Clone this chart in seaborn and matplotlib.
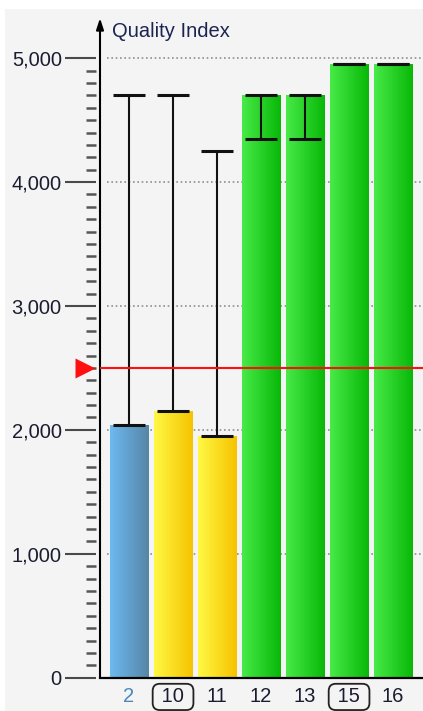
import numpy as np
import pandas as pd
import matplotlib
matplotlib.use("Agg")
import matplotlib.pyplot as plt
import seaborn as sns
from matplotlib.ticker import FixedLocator, FuncFormatter
from matplotlib.colors import to_rgb
from matplotlib.patches import Rectangle
from matplotlib.transforms import blended_transform_factory

# ─── DATA ───────────────────────────────────────────────
categories = ["2", "10", "11", "12", "13", "15", "16"]
values     = [2040, 2150, 1950, 4700, 4700, 4950, 4950]
range_low  = [2040, 2150, 1950, 4350, 4350, 4950, 4950]
range_high = [4700, 4700, 4250, 4700, 4700, 4950, 4950]
kinds      = ["blue", "yellow", "yellow", "green", "green", "green", "green"]
boxed      = ["10", "15"]
threshold  = 2500
y_ticks    = [0, 1000, 2000, 3000, 4000, 5000]
minor_step = 100
y_title    = "Quality Index"

# ─── STYLE ──────────────────────────────────────────────
GRADIENTS = {
    "blue":   ("#6cb9f2", "#5686a6"),
    "yellow": ("#fff844", "#f5c300"),
    "green":  ("#48ea48", "#08b808"),
}
BG = "#f4f4f4"
FONT = 14.5

sns.set_theme(style="white")
plt.rcParams["font.family"] = ["Liberation Sans", "DejaVu Sans"]

fig = plt.figure(figsize=(4.23, 7.11), dpi=100, facecolor="white")
fig.patches.append(Rectangle((5 / 423, 0), 1, (711 - 9) / 711,
                             transform=fig.transFigure, fc=BG, ec="none", zorder=-5))
ax = fig.add_axes([100 / 423, 33.3 / 711, 323 / 423, 662.9 / 711])
ax.set_facecolor("none")

# ─── BARS ───────────────────────────────────────────────
df = pd.DataFrame({"cat": categories, "val": values, "kind": kinds})
palette = {c: GRADIENTS[k][1] for c, k in zip(categories, kinds)}
sns.barplot(data=df, x="cat", y="val", hue="cat", palette=palette,
            legend=False, errorbar=None, width=0.886, ax=ax, zorder=2)

# gradient fill clipped to every bar
for p, k in zip(ax.patches, kinds):
    p.set_edgecolor("none")
    x0, y0 = p.get_x(), p.get_y()
    w, h = p.get_width(), p.get_height()
    left = np.array(to_rgb(GRADIENTS[k][0]))
    right = np.array(to_rgb(GRADIENTS[k][1]))
    t = np.linspace(0, 1, 64)[None, :, None]
    img = left + (right - left) * t
    im = ax.imshow(img, extent=[x0, x0 + w, y0, y0 + h], aspect="auto",
                   interpolation="bilinear", zorder=2.1)
    im.set_clip_path(p)

# min / max range bars
lower = [v - lo for v, lo in zip(values, range_low)]
upper = [hi - v for v, hi in zip(values, range_high)]
ax.errorbar(range(len(categories)), values, yerr=[lower, upper], fmt="none",
            ecolor="#111111", elinewidth=1.5, capsize=11.5, capthick=2.2, zorder=4)

ax.set_xlim(-0.66, 6.68)
ax.set_ylim(0, 5350)

# dotted grid, starting a little right of the axis
for yv in y_ticks[1:]:
    ax.axhline(yv, xmin=0.022, xmax=1, color="#8f8f8f", lw=1.2,
               ls=(0, (1, 1.6)), zorder=1)

# threshold line + marker
ax.axhline(threshold, color="#ff1010", lw=1.5, zorder=5)
trans = blended_transform_factory(ax.transAxes, ax.transData)
ax.plot([-0.046], [threshold], marker=">", ms=15, color="#ff1010",
        mec="none", transform=trans, clip_on=False, zorder=6)

# ─── AXES ───────────────────────────────────────────────
for s in ["top", "right"]:
    ax.spines[s].set_visible(False)
ax.spines["left"].set_position(("outward", 3))
ax.spines["left"].set_visible(False)
ax.spines["bottom"].set_color("black")
ax.spines["bottom"].set_linewidth(1.6)
ax.annotate("", xy=(0, 0.995), xytext=(0, 0), xycoords="axes fraction",
            arrowprops=dict(arrowstyle="-|>,head_length=0.55,head_width=0.18",
                            color="black", lw=1.5, shrinkA=0, shrinkB=0))
ax.text(12 / 323, 1 - 17 / 662.9, y_title, transform=ax.transAxes,
        fontsize=FONT, color="#1c2450", ha="left", va="center")

# y ticks (minor ticks only up to the last major tick)
ax.set_yticks(y_ticks)
ax.yaxis.set_major_formatter(FuncFormatter(lambda v, _: f"{int(v):,}"))
minor = [v for v in range(y_ticks[0], y_ticks[-1] + 1, minor_step) if v not in y_ticks]
ax.yaxis.set_minor_locator(FixedLocator(minor))
ax.tick_params(axis="y", which="major", length=22.5, width=1.5, color="#4a4a4a",
               pad=2, labelsize=FONT, labelcolor="#1c1c30", left=True)
ax.tick_params(axis="y", which="minor", length=7.5, width=1.8, color="#555555", left=True)

# x ticks (boxed ones get a rounded frame)
ax.set_xlabel("")
ax.set_ylabel("")
ax.set_xticks(range(len(categories)))
ax.set_xticklabels([f" {c} " if c in boxed else c for c in categories])
ax.tick_params(axis="x", length=0, pad=7, labelsize=FONT, labelcolor="#1c1c30")
for lab, c in zip(ax.get_xticklabels(), categories):
    if c == categories[0]:
        lab.set_color("#4a88bc")
    if c in boxed:
        lab.set_bbox(dict(boxstyle="round,pad=0.18,rounding_size=0.35",
                          fc="none", ec="#222222", lw=1.3))

fig.savefig("out.png", dpi=100, facecolor=fig.get_facecolor())
